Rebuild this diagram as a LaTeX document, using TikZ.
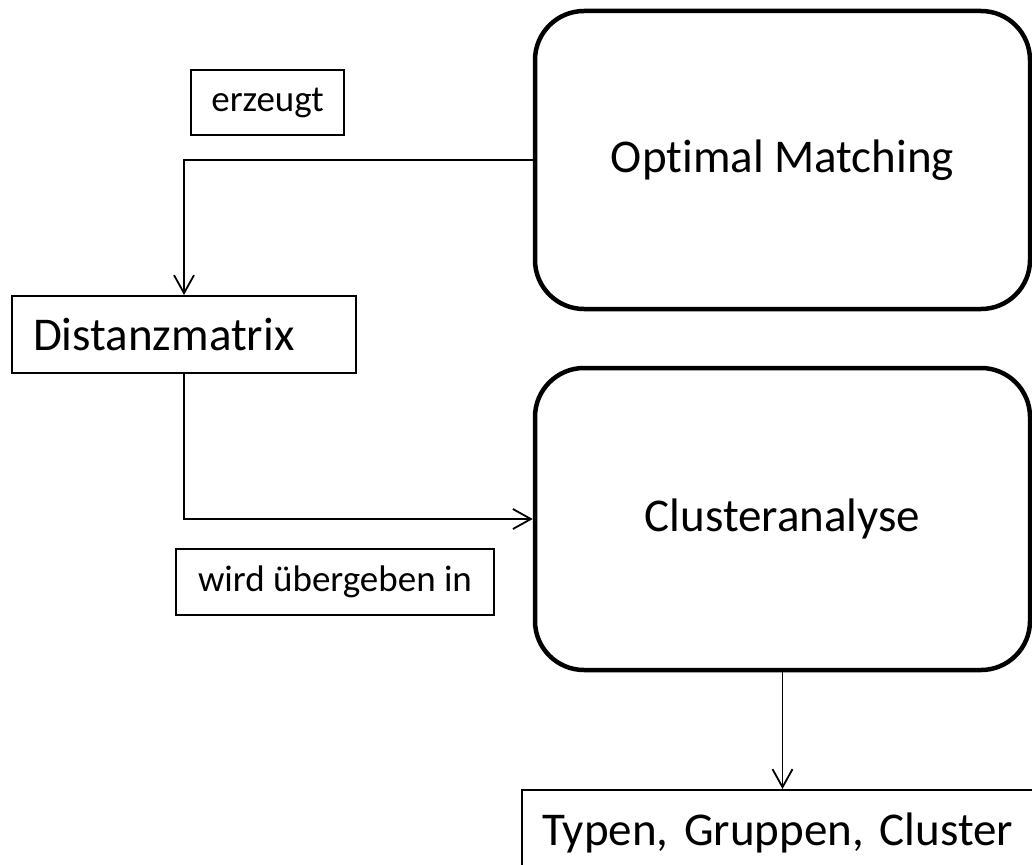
\documentclass[tikz,border=0pt]{standalone}
\usepackage{fontspec}
\setmainfont[Ligatures=NoCommon]{Carlito}
\usetikzlibrary{arrows.meta}
\begin{document}
\begin{tikzpicture}[x=1pt,y=-1pt,
  bigbox/.style={draw, line width=4.5pt, rounded corners=49pt, font=\fontsize{47}{56}\selectfont},
  plainbox/.style={draw, line width=2pt, font=\fontsize{47}{56}\selectfont},
  labelbox/.style={draw, line width=1.6pt, font=\fontsize{37}{44}\selectfont, inner sep=0pt},
  conn/.style={line width=1.8pt, -{Straight Barb[length=18pt,width=20pt]}}
]
\useasboundingbox (0,0) rectangle (1032,864);
\clip (0,0) rectangle (1032,864);
\node[bigbox, minimum width=495pt, minimum height=298pt] (om) at (782.5,160) {\raisebox{-4pt}{Optimal Matching}};
\node[bigbox, minimum width=495pt, minimum height=302pt] (ca) at (782.5,519) {\raisebox{-4pt}{Clusteranalyse}};
\node[plainbox, anchor=north west, minimum height=77pt, text width=302pt, inner xsep=21pt, align=left] (dm) at (11,295) {Distanzmatrix};
\node[plainbox, anchor=north west, minimum height=86pt, text width=500pt, inner xsep=20pt, align=left] (ty) at (521,789) {Typen, Gruppen, Cluster};
\node[labelbox, minimum width=153pt, minimum height=65pt] (er) at (267.5,102.5) {erzeugt};
\node[labelbox, minimum width=318pt, minimum height=66pt] (wu) at (335,582) {wird übergeben in};
\draw[conn] (om.west) -| (dm.north);
\draw[conn] (dm.south) |- (ca.west);
\draw[conn] (ca.south) -- (ca.south |- ty.north);
\end{tikzpicture}
\end{document}
